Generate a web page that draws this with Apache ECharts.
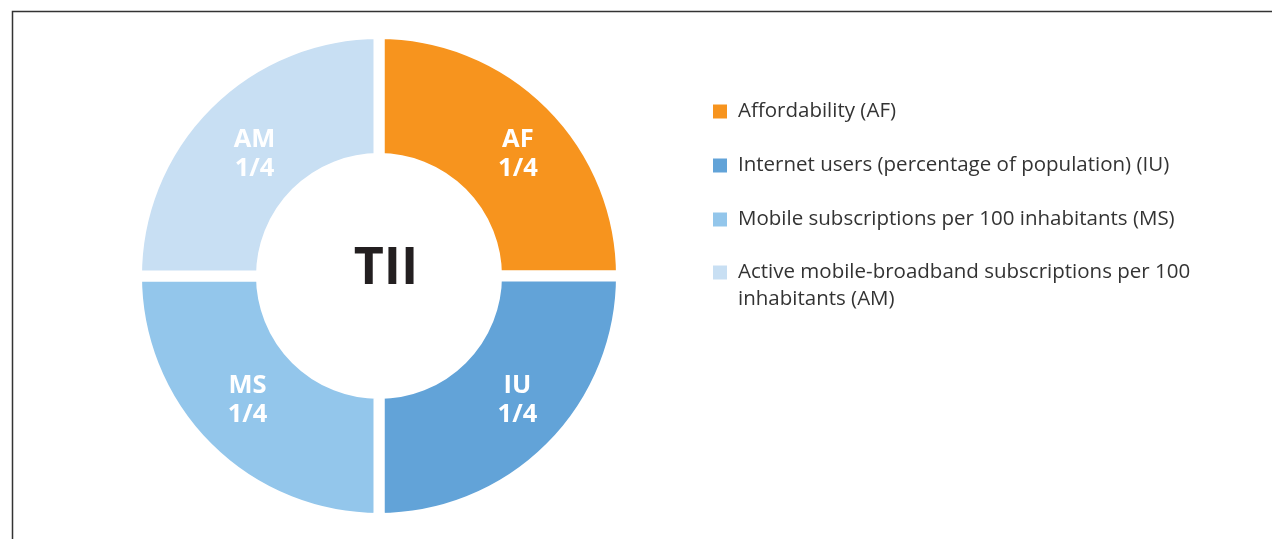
<!DOCTYPE html>
<html>
<head>
<meta charset="utf-8">
<title>TII</title>
<script src="https://cdn.jsdelivr.net/npm/echarts@6/dist/echarts.min.js"></script>
<style>
  html, body { margin: 0; padding: 0; background: #fff; }
  #main { width: 1272px; height: 539px; }
</style>
</head>
<body>
<div id="main"></div>
<script>
// sub-indicators of the index, clockwise from 12 o'clock
var names = [
  'Affordability (AF)',
  'Internet users (percentage of population) (IU)',
  'Mobile subscriptions per 100 inhabitants (MS)',
  'Active mobile-broadband subscriptions per 100 inhabitants (AM)'
];
var codes = ['AF', 'IU', 'MS', 'AM'];
var weights = [1, 1, 1, 1];
var shares = ['1/4', '1/4', '1/4', '1/4'];
var colors = ['#f7941e', '#62a3d8', '#93c6eb', '#c8dff3'];

// small nudges so the slice labels sit where the original has them
var labelNudge = [[9.5, 7.5], [9, -5], [-2, -5.5], [5, 8]];

var chart = echarts.init(document.getElementById('main'));

var pieData = names.map(function (n, i) {
  return { name: n, value: weights[i], itemStyle: { color: colors[i] } };
});

var legendText = {
  fontFamily: 'Open Sans',
  fontSize: 20.5,
  lineHeight: 27,
  color: '#333',
  padding: [0, 0, 0, 5]
};

function legendBase(top) {
  return {
    orient: 'vertical',
    left: 711,
    top: top,
    padding: 0,
    icon: 'rect',
    itemWidth: 16,
    itemHeight: 16,
    itemGap: 27,
    selectedMode: false,
    textStyle: legendText
  };
}

var legendA = legendBase(98);
legendA.data = names.slice(0, 3);

// the wrapped item: an empty first line keeps the square level with the text's first line
var legendB = legendBase(232);
legendB.data = [{
  name: names[3],
  textStyle: { width: 470, overflow: 'break' }
}];
legendB.formatter = function (n) { return '\n' + n; };

chart.setOption({
  animation: false,
  backgroundColor: '#fff',
  legend: [legendA, legendB],
  graphic: [
    {
      type: 'rect',
      shape: { x: 12.5, y: 11.5, width: 1300, height: 600 },
      style: { fill: null, stroke: '#333', lineWidth: 1.5 },
      silent: true
    },
    {
      type: 'text',
      x: 386,
      y: 269,
      style: {
        text: 'TII',
        fontFamily: 'Open Sans',
        fontWeight: 'bold',
        fontSize: 52,
        fill: '#231f20',
        align: 'center',
        verticalAlign: 'middle'
      },
      silent: true
    }
  ],
  series: [
    {
      type: 'pie',
      center: [379, 276],
      radius: [117.5, 242.5],
      startAngle: 90,
      clockwise: true,
      silent: true,
      itemStyle: { borderColor: '#fff', borderWidth: 11 },
      label: {
        show: true,
        position: 'inside',
        color: '#fff',
        fontFamily: 'Open Sans',
        fontWeight: 'bold',
        fontSize: 25.5,
        lineHeight: 29,
        formatter: function (p) {
          return codes[p.dataIndex] + '\n' + shares[p.dataIndex];
        }
      },
      labelLayout: function (p) {
        return { dx: labelNudge[p.dataIndex][0], dy: labelNudge[p.dataIndex][1] };
      },
      labelLine: { show: false },
      data: pieData
    }
  ]
});
</script>
</body>
</html>
